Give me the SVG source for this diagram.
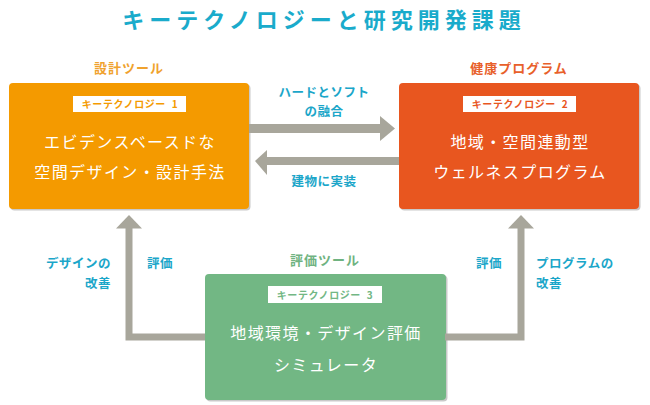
<svg xmlns="http://www.w3.org/2000/svg" width="650" height="405" viewBox="0 0 650 405">
<style>
text{font-family:"Noto Sans CJK JP","Noto Sans",sans-serif;}
.title{font-size:22px;font-weight:bold;fill:#1aabcb;letter-spacing:5px;}
.cap{font-size:13px;font-weight:bold;letter-spacing:1px;}
.tag{font-size:10px;font-weight:bold;letter-spacing:0.6px;}
.main{font-size:16px;fill:#ffffff;letter-spacing:1.4px;}
.lbl{font-size:12.5px;font-weight:bold;fill:#1ba6c9;letter-spacing:0.5px;}
.shadow{fill:#c9c9c9;}
.tagbox{fill:#ffffff;}
.arrow{fill:#a8a69b;}
.shaft{fill:none;stroke:#a8a69b;stroke-width:7;stroke-linejoin:miter;}
</style>
<text class="title" x="324" y="28" text-anchor="middle">キーテクノロジーと研究開発課題</text>

<g id="node-design">
<text class="cap" x="129" y="73" text-anchor="middle" fill="#f0a22e">設計ツール</text>
<rect class="shadow" x="10.5" y="84.5" width="240" height="126" rx="4"/>
<rect x="9" y="83" width="240" height="126" rx="4" fill="#f49a00"/>
<rect class="tagbox" x="73" y="96" width="113" height="16"/>
<text class="tag" x="130" y="108" text-anchor="middle" fill="#f49a00" xml:space="preserve">キーテクノロジー  1</text>
<text class="main" x="130" y="148" text-anchor="middle">エビデンスベースドな</text>
<text class="main" x="130" y="178" text-anchor="middle">空間デザイン・設計手法</text>
</g>

<g id="node-program">
<text class="cap" x="519" y="73" text-anchor="middle" fill="#e8602a">健康プログラム</text>
<rect class="shadow" x="400.5" y="84.5" width="240" height="126" rx="4"/>
<rect x="399" y="83" width="240" height="126" rx="4" fill="#e8561f"/>
<rect class="tagbox" x="463" y="96" width="113" height="16"/>
<text class="tag" x="520" y="108" text-anchor="middle" fill="#e8561f" xml:space="preserve">キーテクノロジー  2</text>
<text class="main" x="520" y="148" text-anchor="middle">地域・空間連動型</text>
<text class="main" x="520" y="178" text-anchor="middle">ウェルネスプログラム</text>
</g>

<g id="node-simulator">
<text class="cap" x="325" y="265" text-anchor="middle" fill="#6fb381">評価ツール</text>
<rect class="shadow" x="206.5" y="275.5" width="241" height="126" rx="4"/>
<rect x="205" y="274" width="241" height="126" rx="4" fill="#72b784"/>
<rect class="tagbox" x="268" y="286" width="114" height="17"/>
<text class="tag" x="325" y="298.5" text-anchor="middle" fill="#72b784" xml:space="preserve">キーテクノロジー  3</text>
<text class="main" x="326" y="339" text-anchor="middle">地域環境・デザイン評価</text>
<text class="main" x="326" y="371" text-anchor="middle">シミュレータ</text>
</g>

<g id="connectors">
<rect class="arrow" x="249" y="124" width="132" height="9"/>
<polygon class="arrow" points="380,116 395,128.5 380,141"/>
<rect class="arrow" x="266" y="157" width="133" height="8"/>
<polygon class="arrow" points="267,150 255,161 267,175"/>
<polyline class="shaft" points="205,337 129,337 129,227"/>
<polygon class="arrow" points="116,228.5 129,215 142,228.5"/>
<polyline class="shaft" points="445,337 521,337 521,227"/>
<polygon class="arrow" points="508,228.5 521,215 534,228.5"/>
<text class="lbl" x="324" y="96.5" text-anchor="middle">ハードとソフト</text>
<text class="lbl" x="324" y="115.5" text-anchor="middle">の融合</text>
<text class="lbl" x="324" y="185.5" text-anchor="middle">建物に実装</text>
<text class="lbl" x="111" y="267.5" text-anchor="end">デザインの</text>
<text class="lbl" x="111" y="287.5" text-anchor="end">改善</text>
<text class="lbl" x="147" y="267.5">評価</text>
<text class="lbl" x="476" y="267.5">評価</text>
<text class="lbl" x="536" y="267.5">プログラムの</text>
<text class="lbl" x="536" y="287.5">改善</text>
</g>
</svg>
